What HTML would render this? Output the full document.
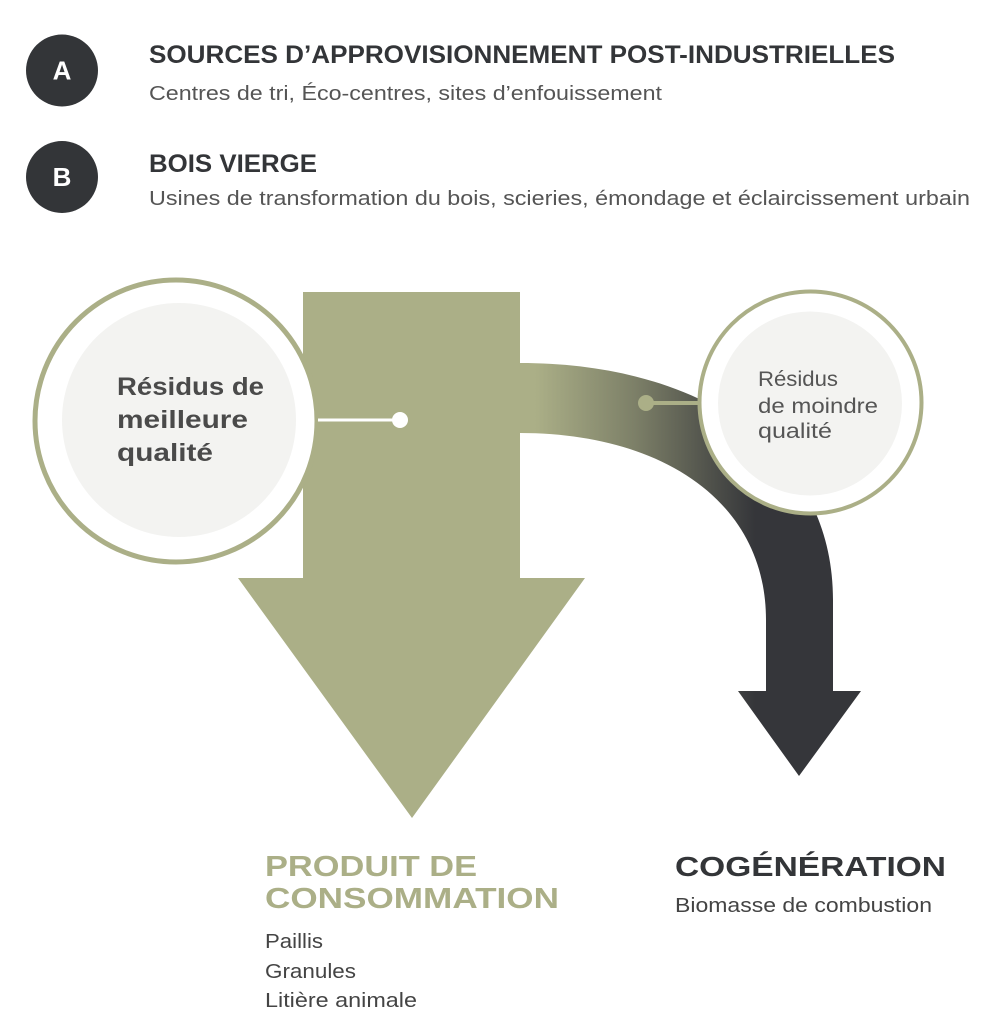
<!DOCTYPE html>
<html>
<head>
<meta charset="utf-8">
<style>
  html, body { margin: 0; padding: 0; background: #ffffff; }
  svg { display: block; }
  text { font-family: "Liberation Sans", "DejaVu Sans", sans-serif; }
</style>
</head>
<body>
<svg width="1000" height="1033" viewBox="0 0 1000 1033" xmlns="http://www.w3.org/2000/svg">
  <defs>
    <linearGradient id="band" gradientUnits="userSpaceOnUse" x1="535" y1="0" x2="755" y2="0">
      <stop offset="0" stop-color="#abaf87"/>
      <stop offset="0.45" stop-color="#7d8068"/>
      <stop offset="1" stop-color="#35363a"/>
    </linearGradient>
  </defs>
  <rect width="1000" height="1033" fill="#ffffff"/>

  <!-- Header badges -->
  <circle cx="62" cy="70.5" r="36" fill="#333538"/>
  <text x="62" y="79.5" font-size="26" font-weight="bold" fill="#ffffff" text-anchor="middle">A</text>
  <circle cx="62" cy="177" r="36" fill="#333538"/>
  <text x="62" y="186" font-size="26" font-weight="bold" fill="#ffffff" text-anchor="middle">B</text>

  <!-- Header text -->
  <text x="149" y="63" font-size="25" font-weight="bold" fill="#333538" textLength="746" lengthAdjust="spacingAndGlyphs">SOURCES D’APPROVISIONNEMENT POST-INDUSTRIELLES</text>
  <text x="149" y="100" font-size="20" fill="#555555" textLength="513" lengthAdjust="spacingAndGlyphs">Centres de tri, Éco-centres, sites d’enfouissement</text>
  <text x="149" y="172" font-size="25" font-weight="bold" fill="#333538" textLength="168" lengthAdjust="spacingAndGlyphs">BOIS VIERGE</text>
  <text x="149" y="205" font-size="20" fill="#555555" textLength="821" lengthAdjust="spacingAndGlyphs">Usines de transformation du bois, scieries, émondage et éclaircissement urbain</text>

  <!-- Curved band (dark arrow) -->
  <path d="M520,363 C700,363 833,450 833,600 L833,691 L861,691 L799,776 L738,691 L766,691 L766,620 C766,500 660,433 520,433 Z" fill="url(#band)"/>

  <!-- Green arrow -->
  <path d="M303,292 L520,292 L520,578 L585,578 L412,818 L238,578 L303,578 Z" fill="#abaf87"/>

  <!-- Big circle -->
  <circle cx="176" cy="421" r="141" fill="#ffffff" stroke="#abaf87" stroke-width="5"/>
  <circle cx="179" cy="420" r="117" fill="#f3f3f1"/>
  <line x1="318" y1="420" x2="400" y2="420" stroke="#ffffff" stroke-width="3"/>
  <circle cx="400" cy="420" r="8" fill="#ffffff"/>
  <text x="117" y="395" font-size="25" font-weight="bold" fill="#4a4a4a" textLength="147" lengthAdjust="spacingAndGlyphs">Résidus de</text>
  <text x="117" y="428" font-size="25" font-weight="bold" fill="#4a4a4a" textLength="131" lengthAdjust="spacingAndGlyphs">meilleure</text>
  <text x="117" y="461" font-size="25" font-weight="bold" fill="#4a4a4a" textLength="96" lengthAdjust="spacingAndGlyphs">qualité</text>

  <!-- Small circle -->
  <line x1="646" y1="403" x2="700" y2="403" stroke="#abaf87" stroke-width="4"/>
  <circle cx="646" cy="403" r="8" fill="#abaf87"/>
  <circle cx="810.5" cy="402.5" r="111" fill="#ffffff" stroke="#abaf87" stroke-width="4"/>
  <circle cx="810" cy="403.5" r="92" fill="#f3f3f1"/>
  <text x="758" y="386" font-size="21" fill="#555555" textLength="80" lengthAdjust="spacingAndGlyphs">Résidus</text>
  <text x="758" y="413" font-size="21" fill="#555555" textLength="120" lengthAdjust="spacingAndGlyphs">de moindre</text>
  <text x="758" y="438" font-size="21" fill="#555555" textLength="74" lengthAdjust="spacingAndGlyphs">qualité</text>

  <!-- Bottom left -->
  <text x="265" y="876" font-size="29" font-weight="bold" fill="#abaf87" textLength="212" lengthAdjust="spacingAndGlyphs">PRODUIT DE</text>
  <text x="265" y="908" font-size="29" font-weight="bold" fill="#abaf87" textLength="294" lengthAdjust="spacingAndGlyphs">CONSOMMATION</text>
  <text x="265" y="948" font-size="20" fill="#444444" textLength="58" lengthAdjust="spacingAndGlyphs">Paillis</text>
  <text x="265" y="978" font-size="20" fill="#444444" textLength="91" lengthAdjust="spacingAndGlyphs">Granules</text>
  <text x="265" y="1007" font-size="20" fill="#444444" textLength="152" lengthAdjust="spacingAndGlyphs">Litière animale</text>

  <!-- Bottom right -->
  <text x="675" y="876" font-size="28" font-weight="bold" fill="#333538" textLength="271" lengthAdjust="spacingAndGlyphs">COGÉNÉRATION</text>
  <text x="675" y="912" font-size="20" fill="#444444" textLength="257" lengthAdjust="spacingAndGlyphs">Biomasse de combustion</text>
</svg>
</body>
</html>
